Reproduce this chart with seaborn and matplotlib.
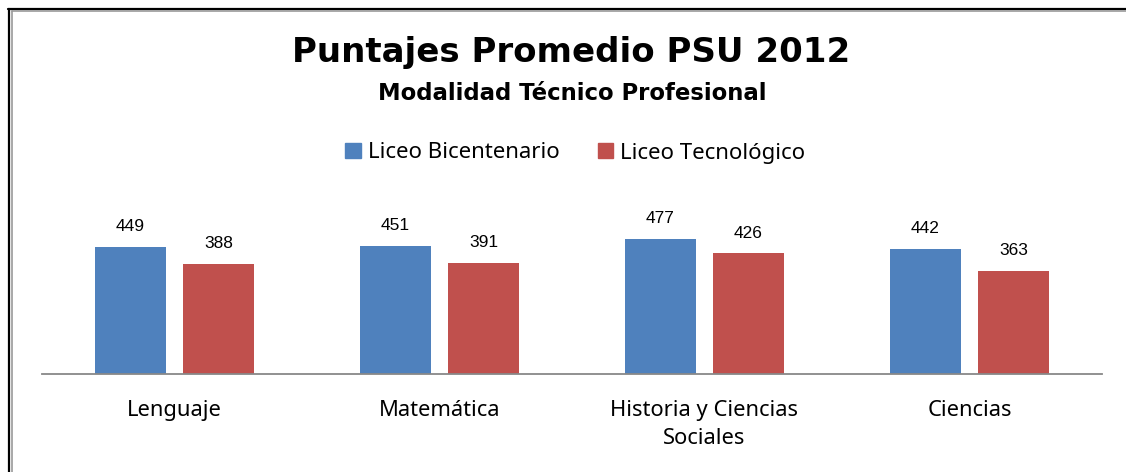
import textwrap

import matplotlib.pyplot as plt
import pandas as pd
import seaborn as sns
from matplotlib.lines import Line2D

# ── Datos ─────────────────────────────────────────────────────────────────────

asignaturas = ["Lenguaje", "Matemática", "Historia y Ciencias Sociales", "Ciencias"]
bicentenario = [449, 451, 477, 442]
tecnologico = [388, 391, 426, 363]
series = ["Liceo Bicentenario", "Liceo Tecnológico"]

BLUE = "#4F81BD"
RED = "#C0504D"
W, H = 1126, 472
LABEL_FONT = "Noto Sans"

df = pd.DataFrame({
    "asignatura": asignaturas * 2,
    "liceo": [series[0]] * 4 + [series[1]] * 4,
    "puntaje": bicentenario + tecnologico,
})

sns.set_theme(style="white")
plt.rcParams["font.family"] = ["Liberation Sans", "DejaVu Sans"]
plt.rcParams["text.color"] = "black"

fig = plt.figure(figsize=(W / 100, H / 100), dpi=100)
ax = fig.add_axes([42 / W, 1 - 374 / H, 1060 / W, 170 / H])

sns.barplot(data=df, x="asignatura", y="puntaje", hue="liceo",
            palette=[BLUE, RED], width=0.664, gap=0.2, ax=ax,
            saturation=1, edgecolor="none", legend=False)

ax.set_xlim(-0.5, 3.5)
ax.set_ylim(0, 170 / 0.2829)
ax.set_xlabel("")
ax.set_ylabel("")
ax.set_yticks([])
for side in ["top", "right", "left"]:
    ax.spines[side].set_visible(False)
ax.spines["bottom"].set_color("#888888")
ax.spines["bottom"].set_linewidth(1.3)

ax.set_xticks(range(len(asignaturas)))
ax.set_xticklabels([textwrap.fill(a, 20) for a in asignaturas],
                   family=LABEL_FONT, fontsize=15.8, color="black", linespacing=1.45)
ax.tick_params(axis="x", length=0, pad=18.5)

# etiquetas de valor
for cont in ax.containers:
    for bar in cont:
        h = bar.get_height()
        ax.annotate(f"{h:.0f}", (bar.get_x() + bar.get_width() / 2, h),
                    xytext=(0, 11.5), textcoords="offset points",
                    ha="center", va="baseline", fontsize=12.5, color="black")

# títulos
fig.text(571.5 / W, 1 - 62 / H, "Puntajes Promedio PSU 2012", family="DejaVu Sans",
         ha="center", va="baseline", fontsize=24.5, fontweight="bold")
fig.text(572 / W, 1 - 100 / H, "Modalidad Técnico Profesional", family="DejaVu Sans",
         ha="center", va="baseline", fontsize=16.4, fontweight="bold")

# leyenda
handles = [plt.Rectangle((0, 0), 1, 1, color=c) for c in [BLUE, RED]]
fig.legend(handles, series, loc="center", ncol=2,
           bbox_to_anchor=(575.5 / W, 1 - 153 / H), frameon=False,
           prop={"family": LABEL_FONT, "size": 16},
           handlelength=0.68, handleheight=0.68, handletextpad=0.32,
           columnspacing=1.75, borderpad=0, borderaxespad=0)

# marco
fig.add_artist(Line2D([8 / W, 1], [1 - 9 / H] * 2, color="black", lw=1.6))
fig.add_artist(Line2D([8.5 / W] * 2, [0, 1 - 9 / H], color="black", lw=1.6))
fig.add_artist(Line2D([11.5 / W, 1], [1 - 11 / H] * 2, color="#999999", lw=1.2))
fig.add_artist(Line2D([11.5 / W] * 2, [0, 1 - 11 / H], color="#999999", lw=1.2))

fig.savefig("out.png", dpi=100, facecolor="white")
